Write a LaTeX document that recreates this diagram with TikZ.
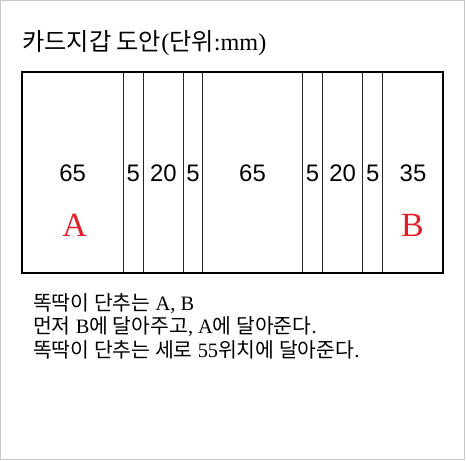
\documentclass[tikz,border=0pt]{standalone}
\usepackage{fontspec}
\setmainfont{Liberation Serif}
\newfontfamily\krfont{Noto Sans CJK KR}
\newfontfamily\numfont{Liberation Sans}
\definecolor{markred}{RGB}{228,30,38}
\definecolor{framegray}{RGB}{200,200,200}
\tikzset{
  num/.style={font=\numfont\fontsize{24}{24}\selectfont, inner sep=0pt, anchor=center},
  letterlabel/.style={font=\fontsize{34}{34}\selectfont, text=markred, inner sep=0pt, anchor=center},
  note/.style={font=\fontsize{20.5}{21}\selectfont, inner sep=0pt, anchor=base west},
  outer/.style={line width=2bp, black},
  divider/.style={line width=1.3bp, black!85}
}
\begin{document}
\begin{tikzpicture}[x=1bp,y=-1bp]
\useasboundingbox (0,0) rectangle (466,461);
\draw[framegray, line width=1.2bp] (0.6,0.6) rectangle (464.6,459.8);
% title
\node[anchor=base west, inner sep=0pt, font=\fontsize{24.3}{25}\selectfont] (title) at (22,51)
  {{\krfont 카드지갑 도안}({\krfont 단위}:mm)};
% dividers
\foreach \x in {123.3,143.3,183.3,202.8,302.3,322.7,362.7,382.7}
  \draw[divider] (\x,72) -- (\x,273.3);
\draw[outer] (22,72) rectangle (443.3,273.3);
% numbers
\node[num] (n1) at (72.6,173) {65};
\node[num] (n2) at (133.3,173) {5};
\node[num] (n3) at (163.3,173) {20};
\node[num] (n4) at (193,173) {5};
\node[num] (n5) at (252.5,173) {65};
\node[num] (n6) at (312.5,173) {5};
\node[num] (n7) at (342.7,173) {20};
\node[num] (n8) at (372.7,173) {5};
\node[num] (n9) at (413,173) {35};
\node[letterlabel] (ma) at (74.5,225.5) {A};
\node[letterlabel] (mb) at (412.5,225.5) {B};
% notes
\node[note] (l1) at (33,310) {{\krfont 똑딱이 단추는} A, B};
\node[note] (l2) at (33,333.5) {{\krfont 먼저} B{\krfont 에 달아주고}, A{\krfont 에 달아준다}.};
\node[note] (l3) at (33,357) {{\krfont 똑딱이 단추는 세로} 55{\krfont 위치에 달아준다}.};
\end{tikzpicture}
\end{document}
